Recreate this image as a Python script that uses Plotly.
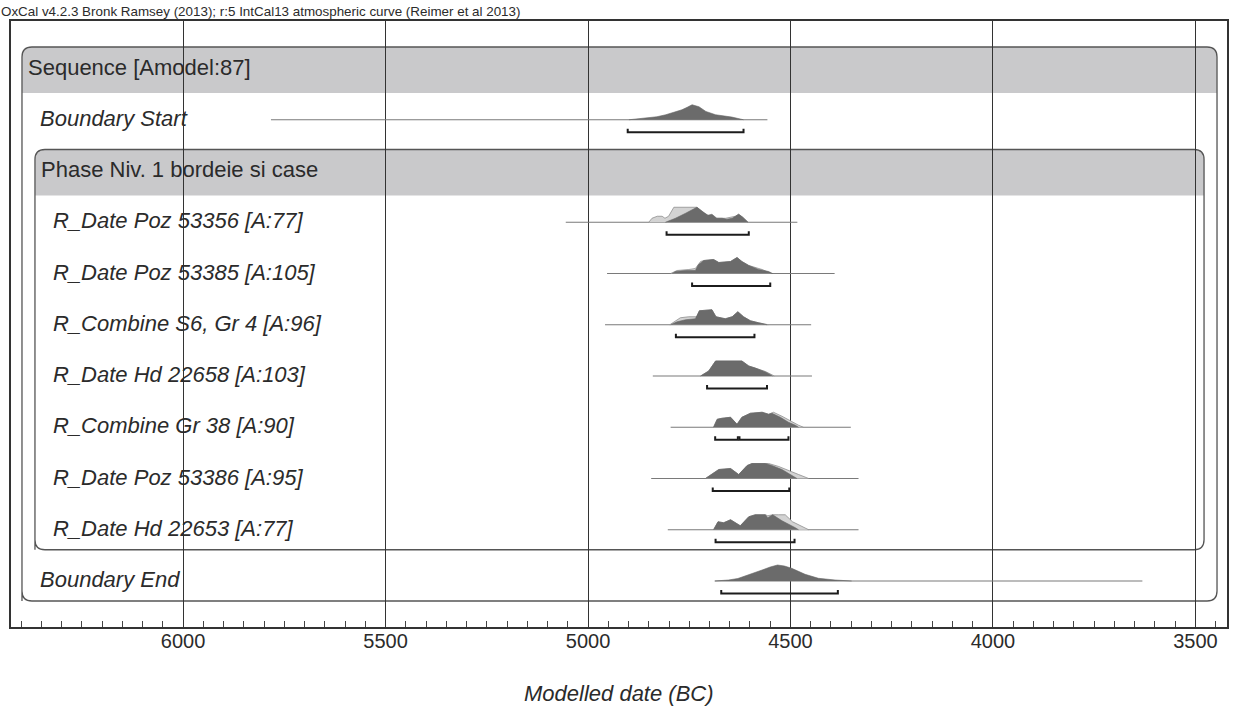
import plotly.graph_objects as go

# ---------------- data ----------------
row_labels = [
    "Sequence [Amodel:87]",
    "<i>Boundary Start</i>",
    "Phase Niv. 1 bordeie si case",
    "<i>R_Date Poz 53356 [A:77]</i>",
    "<i>R_Date Poz 53385 [A:105]</i>",
    "<i>R_Combine S6, Gr 4 [A:96]</i>",
    "<i>R_Date Hd 22658 [A:103]</i>",
    "<i>R_Combine Gr 38 [A:90]</i>",
    "<i>R_Date Poz 53386 [A:95]</i>",
    "<i>R_Date Hd 22653 [A:77]</i>",
    "<i>Boundary End</i>",
]
label_indent = [0, 1, 1, 2, 2, 2, 2, 2, 2, 2, 1]

# Boundary Start (row 1)
bstart_years = [4899, 4870, 4850, 4830, 4808, 4788, 4768, 4755, 4743, 4726, 4709, 4685, 4660, 4645, 4616]
bstart_post = [0, 1, 1.7, 3, 5, 7.5, 10, 12.5, 15, 13, 8.3, 5, 3.5, 2.7, 0]
bstart_range = [5783, 4557]
bstart_hpd = [[4902, 4616]]

# R_Date Poz 53356 (row 3)
p53356_like_years = [4850, 4842, 4829, 4817, 4810, 4801, 4788, 4731, 4710, 4685, 4660, 4636, 4628, 4618, 4605]
p53356_like = [0, 4, 6, 6, 4, 6, 15, 15, 8, 4, 4, 6, 8, 5, 0]
p53356_post_years = [4809, 4784, 4759, 4731, 4718, 4704, 4694, 4682, 4669, 4657, 4644, 4636, 4628, 4618, 4605]
p53356_post = [0, 4, 9, 15, 11, 7, 8, 4, 4, 3, 4, 6, 8, 5, 0]
p53356_range = [5055, 4483]
p53356_hpd = [[4806, 4603]]

# R_Date Poz 53385 (row 4)
p53385_like_years = [4796, 4780, 4751, 4735, 4722, 4714, 4690, 4677, 4648, 4632, 4620, 4603, 4570, 4547]
p53385_like = [0, 3, 4, 5, 12, 13, 14, 11, 12, 16, 12, 8, 4, 0]
p53385_post_years = [4792, 4784, 4759, 4735, 4727, 4714, 4690, 4677, 4648, 4632, 4620, 4603, 4579, 4554, 4544]
p53385_post = [0, 2, 3, 3, 9, 13, 14, 11, 12, 16, 12, 8, 4, 2, 0]
p53385_range = [4953, 4391]
p53385_hpd = [[4743, 4550]]

# R_Combine S6, Gr 4 (row 5)
s6_like_years = [4798, 4772, 4751, 4731, 4725, 4694, 4684, 4661, 4644, 4630, 4616, 4599, 4579, 4555]
s6_like = [0, 7, 8, 8, 14, 15, 8, 6, 8, 13, 8, 4, 2, 0]
s6_post_years = [4796, 4780, 4759, 4735, 4725, 4694, 4684, 4661, 4644, 4630, 4616, 4599, 4579, 4558]
s6_post = [0, 3, 5, 6, 14, 15, 8, 6, 8, 13, 8, 4, 2, 0]
s6_range = [4958, 4449]
s6_hpd = [[4783, 4589]]

# R_Date Hd 22658 (row 6)
hd22658_like_years = [4722, 4702, 4685, 4620, 4603, 4587, 4562, 4540]
hd22658_like = [0, 5, 15, 15, 10, 8, 4.5, 0]
hd22658_post_years = [4722, 4702, 4685, 4620, 4603, 4587, 4562, 4544]
hd22658_post = [0, 5, 15, 15, 10, 8, 4, 0]
hd22658_range = [4840, 4447]
hd22658_hpd = [[4706, 4558]]

# R_Combine Gr 38 (row 7)
gr38_like_years = [4690, 4681, 4669, 4648, 4632, 4620, 4599, 4570, 4554, 4542, 4521, 4500, 4480, 4468]
gr38_like = [0, 8, 9, 10, 3, 10, 14, 15, 13, 15, 11, 6, 2, 0]
gr38_post_years = [4690, 4681, 4669, 4648, 4632, 4620, 4599, 4570, 4554, 4546, 4525, 4505, 4488, 4480]
gr38_post = [0, 8, 9, 10, 3, 10, 14, 15, 13, 14, 10, 5, 2, 0]
gr38_range = [4796, 4351]
gr38_hpd = [[4686, 4630], [4626, 4505]]

# R_Date Poz 53386 (row 8)
p53386_like_years = [4710, 4690, 4677, 4648, 4628, 4607, 4595, 4562, 4554, 4529, 4509, 4480, 4455]
p53386_like = [0, 6, 9, 10, 4, 13, 15, 15, 15, 12, 9, 4, 0]
p53386_post_years = [4710, 4690, 4677, 4648, 4628, 4607, 4595, 4562, 4546, 4521, 4500, 4484]
p53386_post = [0, 6, 9, 10, 4, 13, 15, 15, 13, 9, 4, 0]
p53386_range = [4844, 4332]
p53386_hpd = [[4692, 4503]]

# R_Date Hd 22653 (row 9)
hd22653_like_years = [4690, 4679, 4665, 4648, 4624, 4603, 4587, 4562, 4556, 4544, 4529, 4513, 4495, 4472, 4455]
hd22653_like = [0, 8, 7, 10, 4, 13, 15, 15, 14, 15, 15, 15, 8, 3, 0]
hd22653_post_years = [4690, 4679, 4665, 4648, 4624, 4603, 4587, 4562, 4556, 4544, 4521, 4500, 4488, 4480]
hd22653_post = [0, 8, 7, 10, 4, 13, 15, 15, 12, 15, 9, 5, 2, 0]
hd22653_range = [4803, 4332]
hd22653_hpd = [[4685, 4490]]

# Boundary End (row 10)
bend_years = [4687, 4653, 4630, 4611, 4590, 4570, 4550, 4532, 4515, 4497, 4464, 4431, 4390, 4349]
bend_post = [0, 1, 2.5, 5, 8, 11, 14, 16, 15, 12.7, 6.7, 2.7, 1, 0]
bend_range = [4687, 3631]
bend_hpd = [[4671, 4383]]

x_ticks = [6000, 5500, 5000, 4500, 4000, 3500]
x_range = [6425, 3422]

title_text = "OxCal v4.2.3 Bronk Ramsey (2013); r:5 IntCal13 atmospheric curve (Reimer et al 2013)"
axis_title = "Modelled date (BC)"

# ---------------- layout constants ----------------
W, H = 1233, 709
PL, PR, PT, PB = 11, 1229, 21, 627
PW, PH = PR - PL, PB - PT
ROW0, STEP = 47.5, 51.25
FONT = "Liberation Sans, Arial, sans-serif"
TXT = "#2b2b2b"
DARK = "#6b6b6b"
LIGHT = "#d3d3d3"
BAND = "#c9c9cb"


def base(i):
    return ROW0 + STEP * i


def fx(pix):  # screen pixel -> paper fraction
    return (pix - PL) / PW


fig = go.Figure()

items = [
    (1, None, None, bstart_years, bstart_post, bstart_range, bstart_hpd),
    (3, p53356_like_years, p53356_like, p53356_post_years, p53356_post, p53356_range, p53356_hpd),
    (4, p53385_like_years, p53385_like, p53385_post_years, p53385_post, p53385_range, p53385_hpd),
    (5, s6_like_years, s6_like, s6_post_years, s6_post, s6_range, s6_hpd),
    (6, hd22658_like_years, hd22658_like, hd22658_post_years, hd22658_post, hd22658_range, hd22658_hpd),
    (7, gr38_like_years, gr38_like, gr38_post_years, gr38_post, gr38_range, gr38_hpd),
    (8, p53386_like_years, p53386_like, p53386_post_years, p53386_post, p53386_range, p53386_hpd),
    (9, hd22653_like_years, hd22653_like, hd22653_post_years, hd22653_post, hd22653_range, hd22653_hpd),
    (10, None, None, bend_years, bend_post, bend_range, bend_hpd),
]

for row, ly, ld, py, pd_, rng, hpd in items:
    b = base(row)
    fig.add_trace(go.Scatter(x=rng, y=[b, b], mode="lines",
                             line=dict(color="#7a7a7a", width=1.2), hoverinfo="skip"))
    if ly is not None:
        fig.add_trace(go.Scatter(x=ly, y=[b - v for v in ld], mode="lines", fill="toself",
                                 fillcolor=LIGHT, line=dict(color="#8f8f8f", width=0.8),
                                 hoverinfo="skip"))
    fig.add_trace(go.Scatter(x=py, y=[b - v for v in pd_], mode="lines", fill="toself",
                             fillcolor=DARK, line=dict(color="#646464", width=0.6),
                             hoverinfo="skip"))
    for a, e in hpd:
        fig.add_trace(go.Scatter(x=[a, a, e, e], y=[b + 9, b + 12.5, b + 12.5, b + 9],
                                 mode="lines", line=dict(color="#1c1c1c", width=2),
                                 hoverinfo="skip"))


def rounded_box(x0, x1, y0, y1, r_px=10):
    rx = r_px / PW
    return (f"M {x0} {y1} L {x0} {y0 + r_px} Q {x0} {y0} {x0 + rx} {y0} "
            f"L {x1 - rx} {y0} Q {x1} {y0} {x1} {y0 + r_px} L {x1} {y1 - r_px} "
            f"Q {x1} {y1} {x1 - rx} {y1} L {x0 + rx} {y1} Q {x0} {y1} {x0} {y1 - r_px} Z")


def top_band(x0, x1, y0, y1, r_px=10):
    rx = r_px / PW
    return (f"M {x0} {y1} L {x0} {y0 + r_px} Q {x0} {y0} {x0 + rx} {y0} "
            f"L {x1 - rx} {y0} Q {x1} {y0} {x1} {y0 + r_px} L {x1} {y1} Z")


shapes = []
# Sequence box
sx0, sx1 = fx(22), fx(1219)
shapes.append(dict(type="path", xref="paper", yref="y", layer="below",
                   path=top_band(sx0, sx1, base(0) - 21.5, base(0) + 24.5),
                   fillcolor=BAND, line=dict(width=0)))
shapes.append(dict(type="path", xref="paper", yref="y", layer="below",
                   path=rounded_box(sx0, sx1, base(0) - 21.5, base(10) + 20),
                   line=dict(color="#555555", width=1.3)))
# Phase box
px0, px1 = fx(35), fx(1206)
shapes.append(dict(type="path", xref="paper", yref="y", layer="below",
                   path=top_band(px0, px1, base(2) - 21.5, base(2) + 24.5),
                   fillcolor=BAND, line=dict(width=0)))
shapes.append(dict(type="path", xref="paper", yref="y", layer="below",
                   path=rounded_box(px0, px1, base(2) - 21.5, base(9) + 20),
                   line=dict(color="#555555", width=1.3)))

annotations = []
indent_px = {0: 26, 1: 38, 2: 51}
for i, lab in enumerate(row_labels):
    ind = label_indent[i]
    xpix = indent_px[ind]
    if i == 2:
        xpix = 39
    annotations.append(dict(text=lab, xref="paper", yref="y", x=fx(xpix), y=base(i) - 1.5,
                            xanchor="left", yanchor="middle", showarrow=False,
                            font=dict(family=FONT, size=22, color=TXT)))

annotations.append(dict(text=title_text, xref="paper", yref="paper", x=fx(-1.5), y=1,
                        xanchor="left", yanchor="bottom", yshift=0, showarrow=False,
                        font=dict(family=FONT, size=13.4, color=TXT)))
annotations.append(dict(text=f"<i>{axis_title}</i>", xref="paper", yref="paper", x=0.5, y=0,
                        xanchor="center", yanchor="middle", yshift=-66, showarrow=False,
                        font=dict(family=FONT, size=22, color=TXT)))

fig.update_layout(
    width=W, height=H,
    margin=dict(l=PL, r=W - PR, t=PT, b=H - PB),
    paper_bgcolor="white", plot_bgcolor="white",
    showlegend=False,
    shapes=shapes, annotations=annotations,
    xaxis=dict(range=x_range, tickvals=x_ticks, ticktext=[str(t) for t in x_ticks],
               showgrid=True, gridcolor="#333333", gridwidth=1.2,
               ticks="inside", ticklen=10, tickcolor="#333333",
               ticklabelstandoff=-5,
               minor=dict(dtick=50, tick0=0, ticks="inside", ticklen=6,
                          tickcolor="#444444", showgrid=False),
               showline=True, mirror=True, linecolor="#333333", linewidth=2,
               zeroline=False, tickfont=dict(family=FONT, size=20, color=TXT)),
    yaxis=dict(range=[PH, 0], showgrid=False, zeroline=False, showticklabels=False,
               showline=True, mirror=True, linecolor="#333333", linewidth=2, ticks=""),
)

fig.write_html("out.html", config={"displayModeBar": False},
               post_script="document.body.style.margin='0';document.body.style.overflow='hidden';")
